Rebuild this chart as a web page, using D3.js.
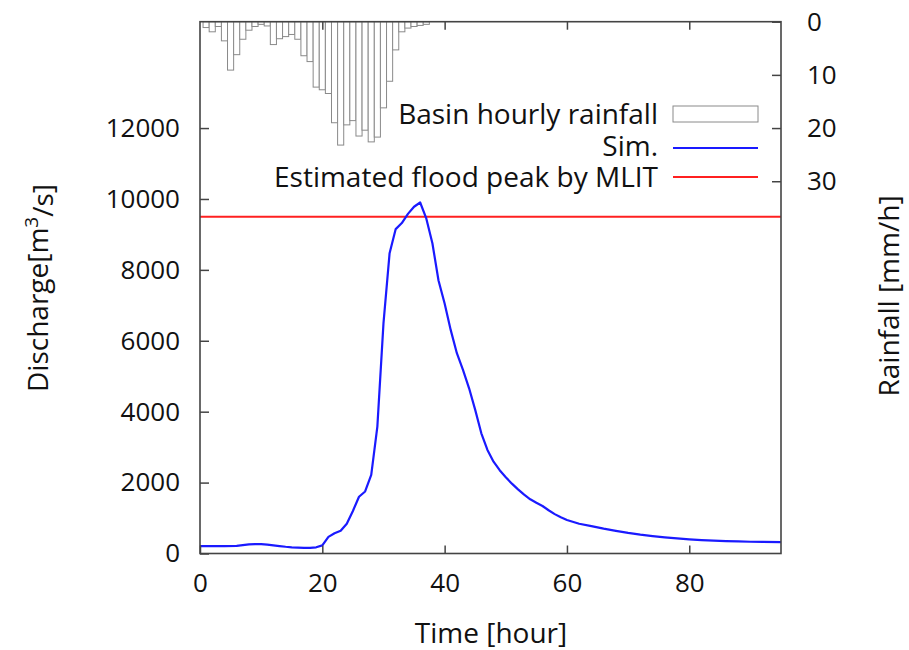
<!DOCTYPE html>
<html>
<head>
<meta charset="utf-8">
<script src="https://cdn.jsdelivr.net/npm/d3@7"></script>
<style>
  html, body { margin: 0; padding: 0; background: #fff; }
  svg text { font-family: "Open Sans", Lato, sans-serif; fill: #111; }
</style>
</head>
<body>
<svg id="chart" width="909" height="650"></svg>
<script>
// ---- data ----
const simHours = [0,2,4,6,7,8,9,10,11,12,13,14,15,16,17,18,19,20,21,22,23,24,25,26,27,28,29,30,31,32,33,34,35,36,37,38,39,40,41,42,43,44,45,46,47,48,49,50,51,52,53,54,55,56,57,58,59,60,62,64,66,68,70,72,74,76,78,80,82,84,86,88,90,92,95];
const simDischarge = [210,210,210,215,235,255,265,262,250,230,210,190,175,165,158,158,175,230,470,570,640,840,1200,1600,1750,2220,3580,6490,8470,9150,9320,9580,9780,9900,9450,8750,7700,7050,6300,5650,5180,4660,4050,3390,2920,2590,2350,2150,1970,1810,1660,1530,1430,1340,1220,1110,1020,945,840,770,700,640,580,530,490,455,425,400,380,365,350,340,332,328,322];
const rainHours = [1,2,3,4,5,6,7,8,9,10,11,12,13,14,15,16,17,18,19,20,21,22,23,24,25,26,27,28,29,30,31,32,33,34,35,36,37];
const rainfall = [1.1,1.9,0.9,3.6,9.1,6.2,3.3,1.6,0.9,0.5,0.8,4.3,3.2,2.8,2.4,3.3,6.4,7.5,12.3,12.8,13.5,19.0,23.2,19.4,18.6,21.5,20.4,22.6,21.7,16.2,11.2,5.3,1.9,1.2,0.9,0.7,0.5];
const mlitPeak = 9500;
const xTicks = [0,20,40,60,80];
const yTicks = [0,2000,4000,6000,8000,10000,12000];
const rainTicks = [0,10,20,30];
const legendLabels = ["Basin hourly rainfall","Sim.","Estimated flood peak by MLIT"];

// ---- layout ----
const L = 200, R = 781, T = 21.7, B = 553.5;
const svg = d3.select("#chart");
const x = d3.scaleLinear().domain([0,95]).range([L,R]);
const y = d3.scaleLinear().domain([0,15000]).range([B,T]);
const yr = d3.scaleLinear().domain([0,100]).range([T,B]);
const axisColor = "#444";
const fs = 26;     // tick labels
const fsT = 28;    // legend and axis titles
const fmt = d3.format("d");

// rainfall bars
svg.append("g").selectAll("rect").data(rainHours).join("rect")
  .attr("x", (h) => x(h-0.5))
  .attr("width", (h) => x(h+0.5)-x(h-0.5))
  .attr("y", yr(0))
  .attr("height", (h,i) => yr(rainfall[i]) - yr(0))
  .attr("fill", "#fff").attr("stroke", "#8a8a8a").attr("stroke-width", 1);

// MLIT line
svg.append("line").attr("x1", L).attr("x2", R)
  .attr("y1", y(mlitPeak)).attr("y2", y(mlitPeak))
  .attr("stroke", "#ff2020").attr("stroke-width", 2);

// simulated discharge
const line = d3.line().x((d) => x(d[0])).y((d) => y(d[1]));
svg.append("path").datum(simHours.map((h,i) => [h, simDischarge[i]]))
  .attr("d", line).attr("fill","none").attr("stroke","#1a1aff").attr("stroke-width",2.2)
  .attr("stroke-linejoin","round");

// axes
function styleAxis(g, showText) {
  g.select(".domain").remove();
  g.selectAll(".tick line").attr("stroke", axisColor).attr("stroke-width", 1.5);
  g.selectAll(".tick text").attr("font-size", fs).attr("font-family","Open Sans").attr("fill","#111");
  if (!showText) g.selectAll(".tick text").remove();
}
svg.append("g").attr("transform", `translate(0,${B})`)
  .call(d3.axisBottom(x).tickValues(xTicks).tickFormat(fmt).tickSizeInner(-8).tickSizeOuter(0).tickPadding(20))
  .call((g) => styleAxis(g, true));
svg.append("g").attr("transform", `translate(0,${T})`)
  .call(d3.axisTop(x).tickValues(xTicks.filter((v)=>v>0)).tickSizeInner(-8).tickSizeOuter(0))
  .call((g) => styleAxis(g, false));
svg.append("g").attr("transform", `translate(${L},0)`)
  .call(d3.axisLeft(y).tickValues(yTicks).tickFormat(fmt).tickSizeInner(-9).tickSizeOuter(0).tickPadding(20))
  .call((g) => styleAxis(g, true));
svg.append("g").attr("transform", `translate(${R},0)`)
  .call(d3.axisRight(yr).tickValues(rainTicks).tickFormat(fmt).tickSizeInner(-9).tickSizeOuter(0).tickPadding(26))
  .call((g) => styleAxis(g, true));

// frame
svg.append("rect").attr("x", L).attr("y", T).attr("width", R-L).attr("height", B-T)
  .attr("fill","none").attr("stroke", axisColor).attr("stroke-width", 1.6);

// legend
const lgX1 = 673, lgX2 = 758, textRight = 658;
const rowY = [114, 146, 177];
legendLabels.forEach((t,i) => {
  svg.append("text").attr("x", textRight).attr("y", rowY[i]).attr("dy","0.35em")
    .attr("text-anchor","end").attr("font-size", fsT).text(t);
});
svg.append("rect").attr("x", lgX1).attr("y", rowY[0]-8).attr("width", lgX2-lgX1).attr("height", 16)
  .attr("fill","#fff").attr("stroke","#8a8a8a").attr("stroke-width",1);
svg.append("line").attr("x1", lgX1).attr("x2", lgX2).attr("y1", rowY[1]+2).attr("y2", rowY[1]+2)
  .attr("stroke","#1a1aff").attr("stroke-width",2.2);
svg.append("line").attr("x1", lgX1).attr("x2", lgX2).attr("y1", rowY[2]).attr("y2", rowY[2])
  .attr("stroke","#ff2020").attr("stroke-width",2);

// axis titles
svg.append("text").attr("x", 491).attr("y", 633).attr("dy","0.35em")
  .attr("text-anchor","middle").attr("font-size", fsT).text("Time [hour]");
const yl = svg.append("text").attr("transform", "translate(48,288) rotate(-90)")
  .attr("text-anchor","middle").attr("font-size", fsT);
yl.append("tspan").text("Discharge[m");
yl.append("tspan").attr("dy","-0.55em").attr("font-size", 19).text("3");
yl.append("tspan").attr("dy","0.55em").text("/s]");
svg.append("text").attr("transform", "translate(899,296) rotate(-90)")
  .attr("text-anchor","middle").attr("font-size", fsT).text("Rainfall [mm/h]");
</script>
</body>
</html>
